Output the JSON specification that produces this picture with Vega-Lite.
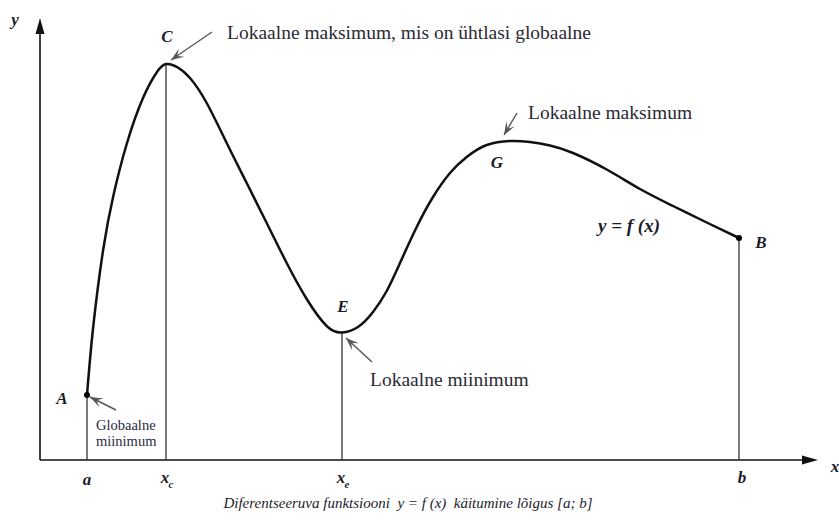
{
  "$schema": "https://vega.github.io/schema/vega-lite/v6.json",
  "width": 839,
  "height": 520,
  "autosize": {"type": "none"},
  "padding": 0,
  "background": "white",
  "config": {"view": {"stroke": null}},
  "datasets": {
    "axes": [
      {"x": 0, "y": 0, "x2": 0, "y2": 428},
      {"x": 0, "y": 0, "x2": 764, "y2": 0}
    ],
    "axisHeads": [
      {"x": 0, "y": 442, "dir": 0},
      {"x": 778, "y": 0, "dir": 90}
    ],
    "drops": [
      {"x": 47, "top": 65},
      {"x": 126, "top": 396},
      {"x": 302, "top": 127.5},
      {"x": 699, "top": 222}
    ],
    "curve": [
      {"x": 47, "y": 65}, {"x": 53.3, "y": 134}, {"x": 63.3, "y": 211}, {"x": 73.3, "y": 264},
      {"x": 86.7, "y": 316}, {"x": 103, "y": 362}, {"x": 117, "y": 388}, {"x": 126, "y": 396},
      {"x": 137, "y": 393}, {"x": 150, "y": 382}, {"x": 166.7, "y": 357}, {"x": 186.7, "y": 317}, {"x": 206.7, "y": 277},
      {"x": 226.7, "y": 237}, {"x": 246.7, "y": 197}, {"x": 266.7, "y": 161}, {"x": 286.7, "y": 134},
      {"x": 302, "y": 127.5}, {"x": 318, "y": 133}, {"x": 333, "y": 148}, {"x": 346.7, "y": 169}, {"x": 360, "y": 197},
      {"x": 376.7, "y": 233}, {"x": 393, "y": 263}, {"x": 410, "y": 287}, {"x": 426.7, "y": 303},
      {"x": 446.7, "y": 315}, {"x": 470, "y": 319}, {"x": 490, "y": 318}, {"x": 510, "y": 314.5}, {"x": 533, "y": 307},
      {"x": 566.7, "y": 290.5}, {"x": 600, "y": 271}, {"x": 633, "y": 254}, {"x": 666.7, "y": 237.5},
      {"x": 699, "y": 222}
    ],
    "ends": [
      {"x": 47, "y": 65},
      {"x": 699, "y": 222}
    ],
    "arrows": [
      {"x": 172, "y": 428, "x2": 131, "y2": 400, "dir": 235.7},
      {"x": 477, "y": 347, "x2": 464, "y2": 325, "dir": 210.6},
      {"x": 332, "y": 98, "x2": 306, "y2": 122, "dir": 312.7},
      {"x": 76, "y": 50, "x2": 50, "y2": 63, "dir": 296.6}
    ],
    "letters": [
      {"x": -25, "y": 440, "t": "y"},
      {"x": 795, "y": -7, "t": "x"},
      {"x": 127, "y": 423, "t": "C"},
      {"x": 22, "y": 61, "t": "A"},
      {"x": 47, "y": -20, "t": "a"},
      {"x": 125, "y": -18, "t": "x"},
      {"x": 303, "y": 153, "t": "E"},
      {"x": 301, "y": -18, "t": "x"},
      {"x": 457, "y": 297, "t": "G"},
      {"x": 721, "y": 217, "t": "B"},
      {"x": 702, "y": -18, "t": "b"}
    ],
    "subs": [
      {"x": 131, "y": -25, "t": "c"},
      {"x": 307, "y": -25, "t": "e"}
    ],
    "notes": [
      {"x": 187, "y": 427, "t": "Lokaalne maksimum, mis on ühtlasi globaalne"},
      {"x": 488, "y": 347, "t": "Lokaalne maksimum"},
      {"x": 330, "y": 80, "t": "Lokaalne miinimum"}
    ],
    "small": [
      {"x": 56, "y": 34, "t": "Globaalne"},
      {"x": 56, "y": 18, "t": "miinimum"}
    ],
    "fx": [
      {"x": 589, "y": 234, "t": "y = f (x)"}
    ],
    "caption": [
      {"x": 368, "y": -43, "t": "Diferentseeruva funktsiooni\u00a0\u00a0y = f (x)\u00a0\u00a0käitumine lõigus [a; b]"}
    ]
  },
  "encoding": {
    "x": {"field": "x", "type": "quantitative", "scale": {"domain": [-40, 799], "nice": false, "zero": false}, "axis": null},
    "y": {"field": "y", "type": "quantitative", "scale": {"domain": [-60, 460], "nice": false, "zero": false}, "axis": null}
  },
  "layer": [
    {
      "data": {"name": "axes"},
      "mark": {"type": "rule", "stroke": "#111111", "strokeWidth": 1.6},
      "encoding": {"x2": {"field": "x2"}, "y2": {"field": "y2"}}
    },
    {
      "data": {"name": "axisHeads"},
      "mark": {"type": "point", "shape": "M0,0 L0.28,1 L-0.28,1 Z", "filled": true, "color": "#111111", "size": 1024, "opacity": 1},
      "encoding": {"angle": {"field": "dir", "type": "quantitative", "scale": null}}
    },
    {
      "data": {"name": "drops"},
      "mark": {"type": "rule", "stroke": "#333333", "strokeWidth": 1.3},
      "encoding": {"y": {"field": "top", "type": "quantitative"}, "y2": {"datum": 0}}
    },
    {
      "data": {"name": "curve"},
      "mark": {"type": "line", "interpolate": "natural", "stroke": "#111111", "strokeWidth": 2.5},
      "encoding": {"order": {"field": "x", "type": "quantitative"}}
    },
    {
      "data": {"name": "ends"},
      "mark": {"type": "point", "filled": true, "color": "#000000", "size": 36, "opacity": 1},
      "encoding": {}
    },
    {
      "data": {"name": "arrows"},
      "mark": {"type": "rule", "stroke": "#555555", "strokeWidth": 1.4},
      "encoding": {"x2": {"field": "x2"}, "y2": {"field": "y2"}}
    },
    {
      "data": {"name": "arrows"},
      "mark": {"type": "point", "shape": "M0,0 L0.38,1 L0,0.55 L-0.38,1 Z", "filled": true, "color": "#555555", "size": 676, "opacity": 1},
      "encoding": {
        "x": {"field": "x2", "type": "quantitative"},
        "y": {"field": "y2", "type": "quantitative"},
        "angle": {"field": "dir", "type": "quantitative", "scale": null}
      }
    },
    {
      "data": {"name": "letters"},
      "mark": {"type": "text", "font": "Liberation Serif", "fontSize": 17, "fontStyle": "italic", "fontWeight": "bold", "color": "#1c1c2a", "align": "center", "baseline": "middle"},
      "encoding": {"text": {"field": "t"}}
    },
    {
      "data": {"name": "subs"},
      "mark": {"type": "text", "font": "Liberation Serif", "fontSize": 11, "fontStyle": "italic", "fontWeight": "bold", "color": "#1c1c2a", "align": "center", "baseline": "middle"},
      "encoding": {"text": {"field": "t"}}
    },
    {
      "data": {"name": "notes"},
      "mark": {"type": "text", "font": "Liberation Serif", "fontSize": 19.5, "color": "#2a2a35", "align": "left", "baseline": "middle"},
      "encoding": {"text": {"field": "t"}}
    },
    {
      "data": {"name": "small"},
      "mark": {"type": "text", "font": "Liberation Serif", "fontSize": 14.5, "color": "#2a2a45", "align": "left", "baseline": "middle"},
      "encoding": {"text": {"field": "t"}}
    },
    {
      "data": {"name": "fx"},
      "mark": {"type": "text", "font": "Liberation Serif", "fontSize": 19, "fontStyle": "italic", "fontWeight": "bold", "color": "#1c1c2a", "align": "center", "baseline": "middle"},
      "encoding": {"text": {"field": "t"}}
    },
    {
      "data": {"name": "caption"},
      "mark": {"type": "text", "font": "Liberation Serif", "fontSize": 15, "fontStyle": "italic", "color": "#1c1c2a", "align": "center", "baseline": "middle"},
      "encoding": {"text": {"field": "t"}}
    }
  ]
}
